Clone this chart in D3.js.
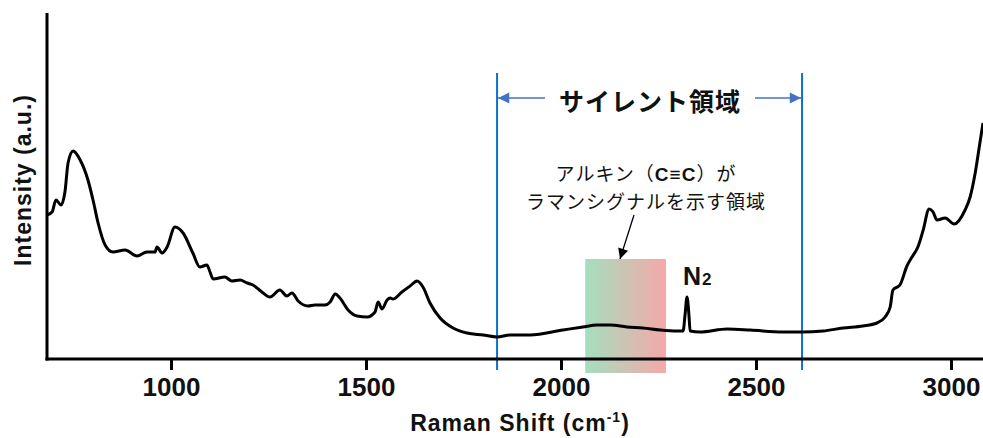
<!DOCTYPE html>
<html>
<head>
<meta charset="utf-8">
<script src="https://cdn.jsdelivr.net/npm/d3@7/dist/d3.min.js"></script>
<style>
  html, body { margin: 0; padding: 0; background: #fff; }
  svg { display: block; }
</style>
</head>
<body>
<svg id="chart" width="983" height="438"></svg>
<script>
// ---- data ----
const ramanShift = [682,695,705,718,728,736,749,767,787,800,813,831,851,882,913,938,959,964,977,990,
  1010,1031,1056,1074,1092,1100,1108,1138,1156,1177,1195,1210,1233,1254,1279,1297,1310,1326,1351,1369,
  1395,1408,1421,1433,1454,1477,1503,1523,1531,1541,1554,1562,1569,1592,1613,1631,1646,1664,1690,1723,
  1759,1800,1836,1869,1921,2005,2056,2092,2126,2169,2210,2254,2297,2313,2318,2323,2328,2331,2356,2426,
  2485,2569,2618,2672,2723,2774,2810,2831,2844,2851,2869,2887,2900,2915,2928,2944,2954,2964,2985,3008,
  3036,3049,3062,3074,3082];
const intensity = [144,147,159,154,167,196,208,199,179,159,136,114,107,109,103,107,107,112,106,112,
  132,126,106,92,94,87,80,82,78,79,76,74,67,62,69,63,66,58,53,54,
  54,57,65,61,49,43,42,47,57,50,59,61,60,67,73,78,72,56,41,31,
  26,24,22,24,24,29,32,34,34,32,31,29,28,28,44,62,44,28,27,30,
  29,27,27,28,31,33,36,42,52,69,74,93,102,112,128,150,147,139,141,135,
  149,162,186,216,236];
const xTicks = [1000, 1500, 2000, 2500, 3000];
const xDomain = [682, 3082];
const yDomain = [0, 346];
const silentRegion = [1836, 2618];
const alkyneRegion = [2062, 2269];
const silentLabel = "サイレント領域";
const alkyneLabel = ["アルキン（", "C≡C", "）が"];
const alkyneLabel2 = "ラマンシグナルを示す領域";
const xTitle = "Raman Shift (cm";
const yTitle = "Intensity (a.u.)";

// ---- layout ----
const svg = d3.select("#chart");
const pLeft = 47, pRight = 983, pTop = 13, pBottom = 359;
const x = d3.scaleLinear().domain(xDomain).range([pLeft, pRight]);
const y = d3.scaleLinear().domain(yDomain).range([pBottom, pTop]);
const latin = "'Liberation Sans', Arial, Helvetica, sans-serif";
const cjk = "'Noto Sans CJK JP', 'Noto Sans', sans-serif";

// defs
const defs = svg.append("defs");
const grad = defs.append("linearGradient").attr("id", "alkGrad")
  .attr("x1", "0%").attr("x2", "100%").attr("y1", "0%").attr("y2", "0%");
grad.append("stop").attr("offset", "0%").attr("stop-color", "#a4dfbe");
grad.append("stop").attr("offset", "100%").attr("stop-color", "#f5a8a8");
defs.append("clipPath").attr("id", "plotClip").append("rect")
  .attr("x", pLeft).attr("y", 0).attr("width", pRight - pLeft).attr("height", pBottom);
defs.append("marker").attr("id", "blueHead").attr("viewBox", "0 0 10 10")
  .attr("refX", 10).attr("refY", 5).attr("markerWidth", 8).attr("markerHeight", 7)
  .attr("markerUnits", "strokeWidth").attr("orient", "auto")
  .append("path").attr("d", "M0,0 L10,5 L0,10 Z").attr("fill", "#4472c4");
defs.append("marker").attr("id", "blackHead").attr("viewBox", "0 0 10 10")
  .attr("refX", 10).attr("refY", 5).attr("markerWidth", 9).attr("markerHeight", 8)
  .attr("markerUnits", "strokeWidth").attr("orient", "auto")
  .append("path").attr("d", "M0,0 L10,5 L0,10 Z").attr("fill", "#000");

// alkyne gradient band
svg.append("rect")
  .attr("x", x(alkyneRegion[0])).attr("y", 259)
  .attr("width", x(alkyneRegion[1]) - x(alkyneRegion[0]))
  .attr("height", 373 - 259)
  .attr("fill", "url(#alkGrad)");

// silent-region boundaries
svg.selectAll("line.silent").data(silentRegion).enter().append("line")
  .attr("class", "silent")
  .attr("x1", d => x(d)).attr("x2", d => x(d))
  .attr("y1", 73).attr("y2", 370)
  .attr("stroke", "#0a72c8").attr("stroke-width", 2);

// silent arrows
const arrowY = 98;
svg.append("line")
  .attr("x1", 545).attr("x2", x(silentRegion[0]) + 1)
  .attr("y1", arrowY).attr("y2", arrowY)
  .attr("stroke", "#4472c4").attr("stroke-width", 1.6)
  .attr("marker-end", "url(#blueHead)");
svg.append("line")
  .attr("x1", 755).attr("x2", x(silentRegion[1]) - 1)
  .attr("y1", arrowY).attr("y2", arrowY)
  .attr("stroke", "#4472c4").attr("stroke-width", 1.6)
  .attr("marker-end", "url(#blueHead)");
svg.append("text")
  .attr("x", 650).attr("y", 100)
  .attr("text-anchor", "middle").attr("dominant-baseline", "central")
  .attr("font-family", cjk).attr("font-weight", "bold").attr("font-size", 25)
  .attr("letter-spacing", 1).attr("fill", "#111")
  .text(silentLabel);

// alkyne annotation (one text block, two lines)
const ann = svg.append("text")
  .attr("text-anchor", "middle")
  .attr("font-family", cjk).attr("font-size", 19).attr("letter-spacing", 1).attr("fill", "#111");
const l1 = ann.append("tspan").attr("x", 646).attr("y", 181);
l1.append("tspan").text(alkyneLabel[0]);
l1.append("tspan").attr("font-family", latin).attr("font-weight", "bold").text(alkyneLabel[1]);
l1.append("tspan").text(alkyneLabel[2]);
ann.append("tspan").attr("x", 646).attr("y", 209).text(alkyneLabel2);
svg.append("line")
  .attr("x1", 634).attr("y1", 215).attr("x2", 620).attr("y2", 259)
  .attr("stroke", "#000").attr("stroke-width", 1.3)
  .attr("marker-end", "url(#blackHead)");

// spectrum
const pts = ramanShift.map((d, i) => [d, intensity[i]]);
svg.append("path")
  .datum(pts)
  .attr("clip-path", "url(#plotClip)")
  .attr("fill", "none").attr("stroke", "#000").attr("stroke-width", 3)
  .attr("stroke-linejoin", "round")
  .attr("d", d3.line().x(d => x(d[0])).y(d => y(d[1])).curve(d3.curveMonotoneX));

// N2 label
const n2 = svg.append("text")
  .attr("x", 683).attr("y", 285)
  .attr("font-family", latin).attr("font-weight", "bold").attr("font-size", 25).attr("fill", "#111");
n2.append("tspan").text("N");
n2.append("tspan").attr("font-size", 17).attr("dx", 1).text("2");

// axes
const xAxis = d3.axisBottom(x).tickValues(xTicks).tickSize(11).tickPadding(8)
  .tickFormat(d3.format("d"));
const gx = svg.append("g").attr("transform", `translate(0,${pBottom})`).call(xAxis);
gx.select(".domain").remove();
gx.selectAll(".tick line").attr("stroke", "#000").attr("stroke-width", 3);
gx.selectAll(".tick text").attr("font-family", latin).attr("font-weight", "bold")
  .attr("font-size", 26).attr("fill", "#111");
svg.append("line").attr("x1", pLeft - 1.5).attr("x2", pRight).attr("y1", pBottom).attr("y2", pBottom)
  .attr("stroke", "#000").attr("stroke-width", 3);
svg.append("line").attr("x1", pLeft).attr("x2", pLeft).attr("y1", pTop).attr("y2", pBottom + 1.5)
  .attr("stroke", "#000").attr("stroke-width", 3);

// axis titles
const xt = svg.append("text")
  .attr("x", 520).attr("y", 431).attr("text-anchor", "middle")
  .attr("font-family", latin).attr("font-weight", "bold").attr("font-size", 23)
  .attr("letter-spacing", 1).attr("fill", "#111");
xt.append("tspan").text(xTitle);
xt.append("tspan").attr("font-size", 14).attr("dy", -9).text("-1");
xt.append("tspan").attr("dy", 9).text(")");
svg.append("text")
  .attr("transform", "translate(31,180) rotate(-90)")
  .attr("text-anchor", "middle")
  .attr("font-family", latin).attr("font-weight", "bold").attr("font-size", 23)
  .attr("letter-spacing", 1).attr("fill", "#111")
  .text(yTitle);
</script>
</body>
</html>
